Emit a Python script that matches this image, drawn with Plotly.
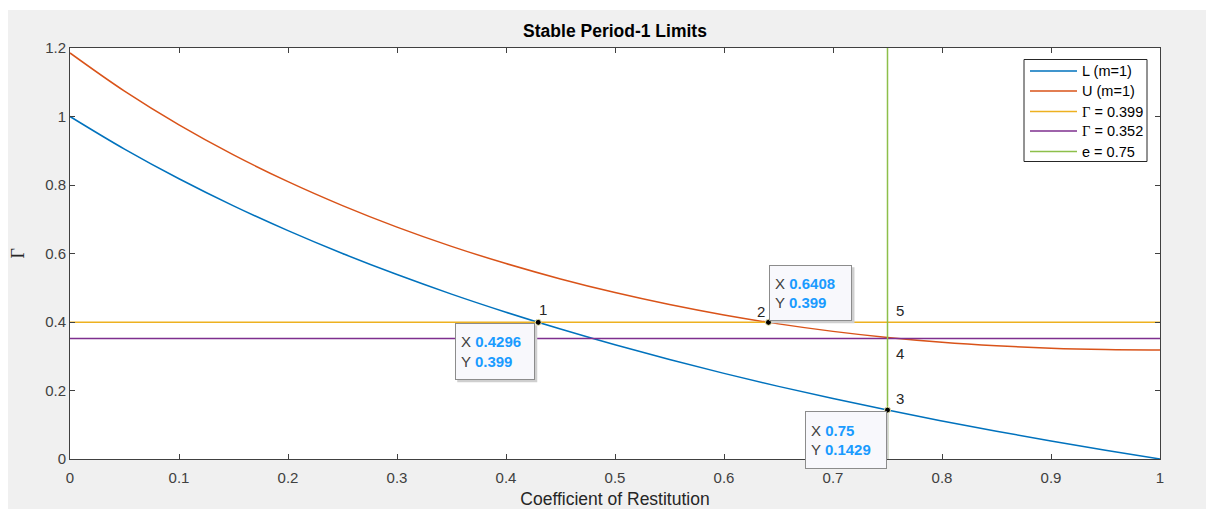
import plotly.graph_objects as go

# ---- data ----
e_vals = [0, 0.05, 0.1, 0.15, 0.2, 0.25, 0.3, 0.35, 0.4, 0.45, 0.5,
          0.55, 0.6, 0.65, 0.7, 0.75, 0.8, 0.85, 0.9, 0.95, 1.0]
L_vals = [1.0, 0.9048, 0.8182, 0.7391, 0.6667, 0.6, 0.5385, 0.4815, 0.4286, 0.3793, 0.3333,
          0.2903, 0.25, 0.2121, 0.1765, 0.1429, 0.1111, 0.0811, 0.0526, 0.0256, 0.0]
U_vals = [1.1855, 1.0741, 0.9756, 0.8880, 0.8098, 0.7399, 0.6771, 0.6209, 0.5707, 0.5258, 0.4860,
          0.4510, 0.4206, 0.3945, 0.3726, 0.3548, 0.3408, 0.3306, 0.3235, 0.3196, 0.3183]
gamma_hi = 0.399
gamma_lo = 0.352
e_line = 0.75
tip_x = [0.4296, 0.6408, 0.75]
tip_y = [0.399, 0.399, 0.1429]
x_ticks = [0, 0.1, 0.2, 0.3, 0.4, 0.5, 0.6, 0.7, 0.8, 0.9, 1]
y_ticks = [0, 0.2, 0.4, 0.6, 0.8, 1, 1.2]
x_tick_text = ["0", "0.1", "0.2", "0.3", "0.4", "0.5", "0.6", "0.7", "0.8", "0.9", "1"]
y_tick_text = ["0", "0.2", "0.4", "0.6", "0.8", "1", "1.2"]
legend_names = ["L (m=1)", "U (m=1)", "Γ = 0.399", "Γ = 0.352", "e = 0.75"]

BLUE = "#0072BD"
ORANGE = "#D95319"
YELLOW = "#EDB120"
PURPLE = "#7E2F8E"
GREEN = "#8DBF4A"
COLORS = [BLUE, ORANGE, YELLOW, PURPLE, GREEN]
FONT = "Arial, Liberation Sans, sans-serif"
SERIF = "Liberation Serif, DejaVu Serif, serif"
LW = 1.5

# plot area in pixels: left 70, width 1090, top 48, height 411
L_M, W_P, T_M, H_P = 70, 1090, 48, 411
def px(x):
    return (x - L_M) / W_P
def py(y):
    return (T_M + H_P - y) / H_P

fig = go.Figure()
fig.add_trace(go.Scatter(x=e_vals, y=L_vals, mode="lines", showlegend=False,
                         line=dict(color=BLUE, width=LW, shape="spline")))
fig.add_trace(go.Scatter(x=e_vals, y=U_vals, mode="lines", showlegend=False,
                         line=dict(color=ORANGE, width=LW, shape="spline")))
fig.add_trace(go.Scatter(x=[0, 1], y=[gamma_hi, gamma_hi], mode="lines", showlegend=False,
                         line=dict(color=YELLOW, width=LW)))
fig.add_trace(go.Scatter(x=[0, 1], y=[gamma_lo, gamma_lo], mode="lines", showlegend=False,
                         line=dict(color=PURPLE, width=LW)))
fig.add_trace(go.Scatter(x=[e_line, e_line], y=[0, 1.2], mode="lines", showlegend=False,
                         line=dict(color=GREEN, width=LW)))
fig.add_trace(go.Scatter(x=tip_x, y=tip_y, mode="markers", showlegend=False,
                         marker=dict(color="black", size=6, line=dict(color="#EDE9B0", width=1))))

annotations = []
shapes = [
    # white border strips outside the grey figure panel
    dict(type="rect", xref="paper", yref="paper", x0=px(0), x1=px(8), y0=py(515), y1=py(-5),
         fillcolor="white", line=dict(width=0), layer="below"),
    dict(type="rect", xref="paper", yref="paper", x0=px(0), x1=px(1210), y0=py(10), y1=py(-5),
         fillcolor="white", line=dict(width=0), layer="below"),
]

# manual legend
shapes.append(dict(type="rect", xref="paper", yref="paper", x0=px(1024), x1=px(1147),
                   y0=py(161.5), y1=py(59.5), fillcolor="white",
                   line=dict(color="#262626", width=1), layer="above"))
row_y = [71, 91, 111.5, 131, 151.5]
for name, col, ry in zip(legend_names, COLORS, row_y):
    shapes.append(dict(type="line", xref="paper", yref="paper", x0=px(1030), x1=px(1077),
                       y0=py(ry), y1=py(ry), line=dict(color=col, width=LW), layer="above"))
    txt = name.replace("Γ", '<span style="font-family:Liberation Serif">Γ</span>')
    annotations.append(dict(x=px(1080), y=py(ry), xref="paper", yref="paper", text=txt,
                            showarrow=False, xanchor="left", yanchor="middle",
                            font=dict(family=FONT, size=14.5, color="#000000")))

# point labels
lab = [(tip_x[0], tip_y[0], "1", 5, 13), (tip_x[1], tip_y[1], "2", -7, 11),
       (tip_x[2], tip_y[2], "3", 12, 12), (e_line, gamma_lo, "4", 12, -15),
       (e_line, gamma_hi, "5", 12, 12)]
for x, y, t, xs, ys in lab:
    annotations.append(dict(x=x, y=y, xref="x", yref="y", text=t, showarrow=False,
                            xshift=xs, yshift=ys, font=dict(family=FONT, size=15, color="#262626")))

TIPBLUE = "#1A9BFF"
def tip(x, y, xa, ya, xs, ys, w, h):
    txt = ("X <b><span style='color:%s'>%s</span></b><br>Y <b><span style='color:%s'>%s</span></b>"
           % (TIPBLUE, x, TIPBLUE, y))
    return dict(x=x, y=y, xref="x", yref="y", text=txt, showarrow=False, align="left",
                valign="middle", xanchor=xa, yanchor=ya, xshift=xs, yshift=ys,
                width=w, height=h,
                bgcolor="#F8F8FC", bordercolor="#8C8C8C", borderwidth=1, borderpad=5,
                font=dict(family=FONT, size=15, color="#404040"))

def shadow(x, y, x0, x1, y0, y1):
    return dict(type="rect", xref="x", yref="y", xsizemode="pixel", ysizemode="pixel",
                xanchor=x, yanchor=y, x0=x0, x1=x1, y0=y0, y1=y1,
                fillcolor="#CFCFCF", line=dict(width=0), layer="above")

annotations.append(tip(0.4296, 0.399, "right", "top", -3, -1, 68, 45))
annotations.append(tip(0.6408, 0.399, "left", "bottom", 1, 1, 71, 44))
annotations.append(tip(0.75, 0.1429, "right", "top", -1, -1, 70, 46))
shapes.append(shadow(0.4296, 0.399, -81, -1, -3, -60))
shapes.append(shadow(0.6408, 0.399, 3, 86, -1, 55))
shapes.append(shadow(0.75, 0.1429, -81, 1, -3, -61))

# y-axis title
annotations.append(dict(x=0, y=0.5, xref="paper", yref="paper", text="Γ", showarrow=False,
                        textangle=-90, xanchor="center", yanchor="middle", xshift=-53,
                        font=dict(family=SERIF, size=18, color="#262626")))

fig.update_layout(
    width=1206, height=509,
    margin=dict(l=L_M, r=1206 - L_M - W_P, t=T_M, b=509 - T_M - H_P),
    paper_bgcolor="#F0F0F0", plot_bgcolor="white",
    title=dict(text="<b>Stable Period-1 Limits</b>", x=0.5, xref="paper", xanchor="center",
               y=1 - 31 / 509, yref="container", yanchor="middle",
               font=dict(family=FONT, size=17.5, color="#000000")),
    font=dict(family=FONT, size=15, color="#404040"),
    showlegend=False,
    annotations=annotations,
    shapes=shapes,
)

fig.update_xaxes(range=[0, 1], tickvals=x_ticks, ticktext=x_tick_text,
                 ticks="inside", ticklen=5, tickcolor="#404040", tickwidth=1,
                 showline=True, linecolor="#404040", linewidth=1, mirror="ticks",
                 showgrid=False, zeroline=False, ticklabelstandoff=5, automargin=False,
                 tickfont=dict(family=FONT, size=15, color="#404040"),
                 title=dict(text="Coefficient of Restitution", standoff=9,
                            font=dict(family=FONT, size=17.5, color="#262626")))
fig.update_yaxes(range=[0, 1.2], tickvals=y_ticks, ticktext=y_tick_text,
                 ticks="inside", ticklen=5, tickcolor="#404040", tickwidth=1,
                 showline=True, linecolor="#404040", linewidth=1, mirror="ticks",
                 showgrid=False, zeroline=False, automargin=False,
                 tickfont=dict(family=FONT, size=15, color="#404040"))

fig.write_html("out.html")
